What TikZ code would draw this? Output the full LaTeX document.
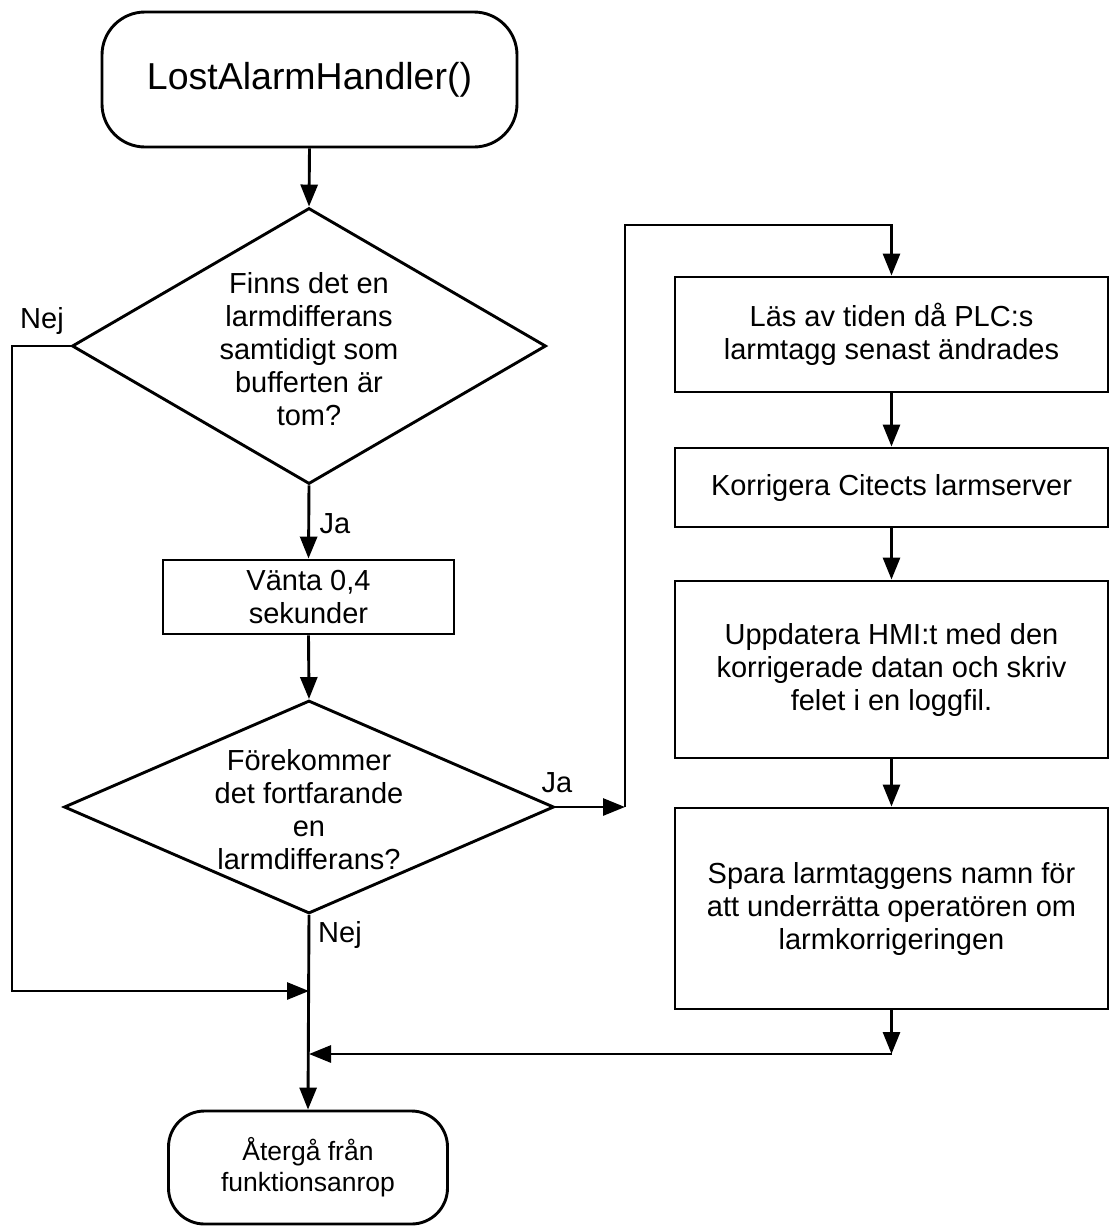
\documentclass[tikz,border=0pt]{standalone}
\usepackage{fontspec}
\setmainfont{Liberation Sans}
\usetikzlibrary{shapes.geometric,arrows.meta}
\begin{document}
\begin{tikzpicture}[x=1pt,y=-1pt,
  line width=2.9pt,
  flow/.style={-{Triangle[length=22pt,width=17pt]}},
  body/.style={font=\fontsize{29}{33}\selectfont, align=center, inner sep=0pt},
  procbox/.style={draw, rectangle, body},
  termbox/.style={draw, rectangle, rounded corners=#1, inner sep=0pt, align=center},
  decision/.style={draw, diamond, inner sep=0pt},
  lbl/.style={body, anchor=base},
]
\useasboundingbox (0,0) rectangle (1111,1227);

% terminals
\node[termbox=43pt, minimum width=415, minimum height=135,
      font=\fontsize{37.5}{42}\selectfont] (start) at (309.5,79.5) {LostAlarmHandler()};
\node[termbox=36pt, minimum width=279, minimum height=113,
      font=\fontsize{26.5}{31}\selectfont] (end) at (308,1167.5) {Återgå från\\funktionsanrop};

% left column
\node[decision, minimum width=474, minimum height=276] (d1) at (309,346) {};
\node[body] (q1) at (309,349) {Finns det en\\larmdifferans\\samtidigt som\\bufferten är\\tom?};
\node[procbox, minimum width=291, minimum height=74] (wait) at (308.5,597) {Vänta 0,4\\sekunder};
\node[decision, minimum width=490, minimum height=213] (d2) at (309,807) {};
\node[body] (q2) at (309,810) {Förekommer\\det fortfarande\\en\\larmdifferans?};

% right column
\node[procbox, minimum width=433, minimum height=115] (b1) at (891.5,334.5) {Läs av tiden då PLC:s\\larmtagg senast ändrades};
\node[procbox, minimum width=433, minimum height=79] (b2) at (891.5,487.5) {Korrigera Citects larmserver};
\node[procbox, minimum width=433, minimum height=177] (b3) at (891.5,669.5) {Uppdatera HMI:t med den\\korrigerade datan och skriv\\felet i en loggfil.};
\node[procbox, minimum width=433, minimum height=201] (b4) at (891.5,908.5) {Spara larmtaggens namn för\\att underrätta operatören om\\larmkorrigeringen};

% branch labels
\node[lbl] (nej1) at (42,328) {Nej};
\node[lbl] (ja1) at (335,533) {Ja};
\node[lbl] (ja2) at (557,792) {Ja};
\node[lbl] (nej2) at (340,942) {Nej};

% routing points
\coordinate (nl) at (12,991);
\coordinate (j1) at (309,991);
\coordinate (j2) at (309,1054);
\coordinate (j3) at (891.5,1054);
\coordinate (jr) at (625,807);
\coordinate (tl) at (625,225);

% connectors
\draw[flow] (start.south) -- (d1.north);
\draw[flow] (d1.south) -- (wait.north);
\draw[flow] (wait.south) -- (d2.north);
\draw[flow] (d2.south) -- (end.north);
\draw[flow] (d1.west) -| (nl) -- (j1);
\draw[flow] (d2.east) -- (jr);
\draw[flow] (jr) -- (tl) -| (b1.north);
\draw[flow] (b1.south) -- (b2.north);
\draw[flow] (b2.south) -- (b3.north);
\draw[flow] (b3.south) -- (b4.north);
\draw[flow] (b4.south) -- (j3);
\draw[flow] (j3) -- (j2);
\end{tikzpicture}
\end{document}
